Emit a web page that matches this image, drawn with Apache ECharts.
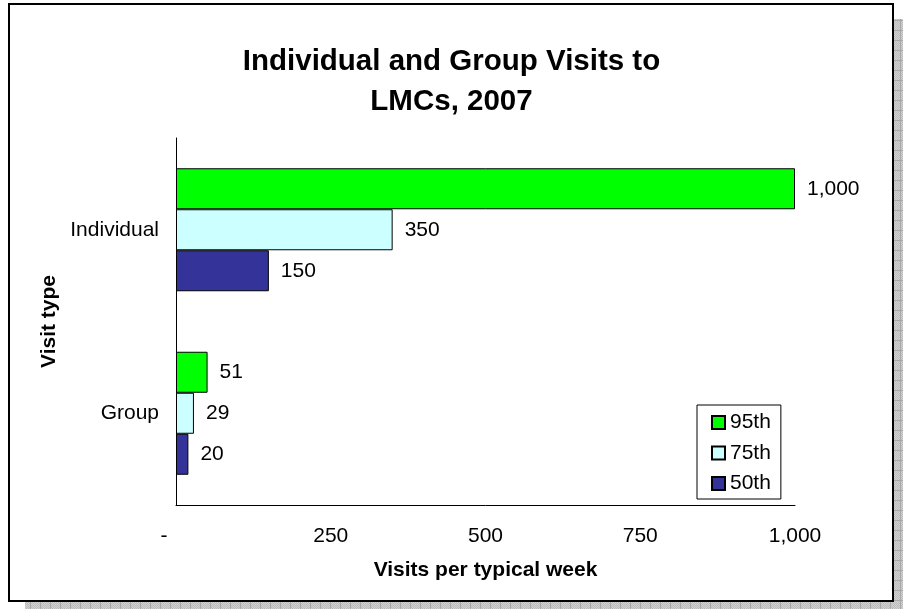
<!DOCTYPE html>
<html>
<head>
<meta charset="utf-8">
<style>
  html, body { margin: 0; padding: 0; background: #fff; }
  #chart { width: 903px; height: 609px; }
</style>
<script src="https://cdn.jsdelivr.net/npm/echarts@6/dist/echarts.min.js"></script>
</head>
<body>
<div id="chart"></div>
<script>
// Visit types (top to bottom) and percentile series
const categories = ['Individual', 'Group'];
const seriesNames = ['95th', '75th', '50th'];
const p95 = [1000, 51];
const p75 = [350, 29];
const p50 = [150, 20];
const xTicks = [0, 250, 500, 750, 1000];

const colors = ['#00FF00', '#CCFFFF', '#333399'];
const values = [p95, p75, p50];

const fmt = v => v === 0 ? '-' : v.toLocaleString('en-US');

// hatched grey tile for the frame shadow
function shadowTile() {
  const c = document.createElement('canvas');
  c.width = 10; c.height = 10;
  const g = c.getContext('2d');
  g.fillStyle = '#d0d0d0';
  g.fillRect(0, 0, 10, 10);
  g.fillStyle = '#bdbdbd';
  for (let y = 0; y < 10; y++) for (let x = 0; x < 10; x++) if ((x + y) % 2 === 0) g.fillRect(x, y, 1, 1);
  g.fillStyle = '#a8a8a8';
  g.fillRect(0, 0, 10, 1);
  g.fillRect(0, 0, 1, 10);
  return c;
}

const chart = echarts.init(document.getElementById('chart'), null, { renderer: 'canvas' });
const font = 'Arial, "Liberation Sans", sans-serif';
const fs = 21;

chart.setOption({
  backgroundColor: '#fff',
  animation: false,
  textStyle: { fontFamily: font },
  title: {
    text: 'Individual and Group Visits to\nLMCs, 2007',
    left: 'center',
    top: 37,
    textStyle: { fontFamily: font, fontSize: 29.5, fontWeight: 'bold', color: '#000', lineHeight: 40 }
  },
  graphic: [
    { type: 'rect', z: -10, silent: true, shape: { x: 894, y: 19, width: 9, height: 590 }, style: { fill: { image: shadowTile(), repeat: 'repeat' } } },
    { type: 'rect', z: -10, silent: true, shape: { x: 25, y: 602, width: 878, height: 7 }, style: { fill: { image: shadowTile(), repeat: 'repeat' } } },
    { type: 'rect', z: 100, silent: true, shape: { x: 9, y: 4, width: 884, height: 597 }, style: { fill: 'none', stroke: '#000', lineWidth: 2 } }
  ],
  legend: {
    orient: 'vertical',
    left: 697,
    top: 405,
    data: seriesNames,
    itemWidth: 13,
    itemHeight: 13,
    itemGap: 9.5,
    padding: [7, 10, 5, 14],
    borderColor: '#000',
    borderWidth: 1,
    icon: 'rect',
    textStyle: { fontFamily: font, fontSize: fs, lineHeight: 21, color: '#000' }
  },
  grid: { left: 176, right: 108, top: 138, bottom: 104, containLabel: false },
  xAxis: {
    type: 'value',
    min: 0,
    max: 1000,
    interval: 250,
    name: 'Visits per typical week',
    nameLocation: 'middle',
    nameGap: 55,
    nameTextStyle: { fontFamily: font, fontSize: fs, fontWeight: 'bold', color: '#000' },
    axisLine: { show: true, lineStyle: { color: '#000', width: 1 } },
    axisTick: { show: false },
    splitLine: { show: false },
    axisLabel: {
      margin: 21,
      fontSize: fs,
      color: '#000',
      formatter: v => v === 0 ? '{d|-}' : fmt(v),
      rich: { d: { fontSize: fs, color: '#000', padding: [0, 24, 0, 0] } }
    }
  },
  yAxis: {
    type: 'category',
    data: categories,
    inverse: true,
    name: 'Visit type',
    nameLocation: 'middle',
    nameGap: 116,
    nameRotate: 90,
    nameTextStyle: { fontFamily: font, fontSize: fs, fontWeight: 'bold', color: '#000' },
    axisLine: { show: true, lineStyle: { color: '#000', width: 1 } },
    axisTick: { show: false },
    axisLabel: { margin: 17, fontSize: fs, color: '#000' }
  },
  series: seriesNames.map((name, i) => ({
    name,
    type: 'bar',
    data: values[i],
    barWidth: 41,
    barGap: '0%',
    itemStyle: { color: colors[i], borderColor: '#000', borderWidth: 1 },
    label: {
      show: true,
      position: 'right',
      distance: 12,
      fontSize: fs,
      color: '#000',
      formatter: p => fmt(p.value)
    }
  }))
});
</script>
</body>
</html>
